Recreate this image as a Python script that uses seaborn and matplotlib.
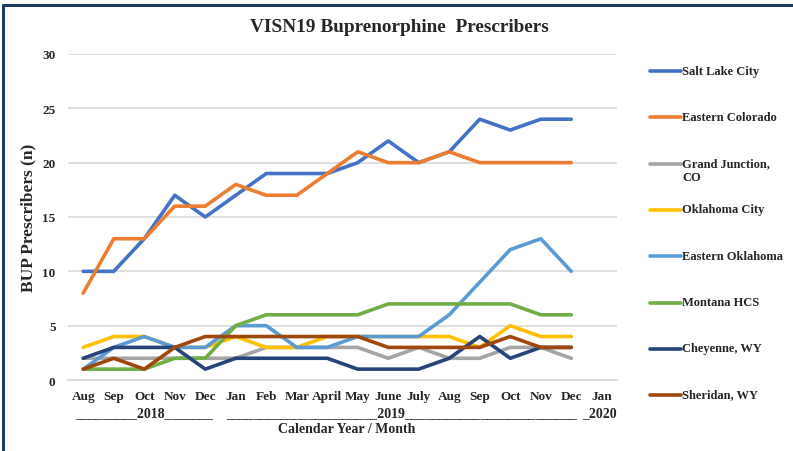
import matplotlib.pyplot as plt
import matplotlib.lines as mlines
import numpy as np
import pandas as pd
import seaborn as sns

# categories (Aug 2018 .. Jan 2020), data runs Aug 2018 .. Dec 2019
months = ['Aug', 'Sep', 'Oct', 'Nov', 'Dec', 'Jan', 'Feb', 'Mar', 'April',
          'May', 'June', 'July', 'Aug', 'Sep', 'Oct', 'Nov', 'Dec', 'Jan']

sites = ['Salt Lake City', 'Eastern Colorado', 'Grand Junction, CO', 'Oklahoma City',
         'Eastern Oklahoma', 'Montana HCS', 'Cheyenne, WY', 'Sheridan, WY']

salt_lake = [10, 10, 13, 17, 15, 17, 19, 19, 19, 20, 22, 20, 21, 24, 23, 24, 24]
eastern_colorado = [8, 13, 13, 16, 16, 18, 17, 17, 19, 21, 20, 20, 21, 20, 20, 20, 20]
grand_junction = [2, 2, 2, 2, 2, 2, 3, 3, 3, 3, 2, 3, 2, 2, 3, 3, 2]
oklahoma_city = [3, 4, 4, 3, 3, 4, 3, 3, 4, 4, 4, 4, 4, 3, 5, 4, 4]
eastern_oklahoma = [1, 3, 4, 3, 3, 5, 5, 3, 3, 4, 4, 4, 6, 9, 12, 13, 10]
montana = [1, 1, 1, 2, 2, 5, 6, 6, 6, 6, 7, 7, 7, 7, 7, 6, 6]
cheyenne = [2, 3, 3, 3, 1, 2, 2, 2, 2, 1, 1, 1, 2, 4, 2, 3, 3]
sheridan = [1, 2, 1, 3, 4, 4, 4, 4, 4, 4, 3, 3, 3, 3, 4, 3, 3]

colors = ['#4472C4', '#ED7D31', '#A5A5A5', '#FFC000',
          '#5B9BD5', '#70AD47', '#264478', '#9E480E']

series = [salt_lake, eastern_colorado, grand_junction, oklahoma_city,
          eastern_oklahoma, montana, cheyenne, sheridan]

rows = []
for site, vals in zip(sites, series):
    for i, v in enumerate(vals):
        rows.append({'site': site, 'idx': i, 'value': v})
df = pd.DataFrame(rows)

sns.set_style('white')
plt.rcParams['font.family'] = ['Liberation Serif', 'DejaVu Serif']
plt.rcParams['font.weight'] = 'bold'

W, H = 793, 452
fig = plt.figure(figsize=(W / 100, H / 100), dpi=100)
ax = fig.add_axes([68 / W, 1 - 381 / H, 549 / W, 326 / H])

sns.lineplot(data=df, x='idx', y='value', hue='site', hue_order=sites,
             palette=dict(zip(sites, colors)), linewidth=2.6, legend=False, ax=ax)

ax.set_xlim(-0.5, 17.5)
ax.set_ylim(0, 30)
ax.set_yticks(range(0, 31, 5))
ax.yaxis.grid(True, color='#D9D9D9', linewidth=1.2)
ax.set_axisbelow(True)
for s in ['top', 'right', 'left']:
    ax.spines[s].set_visible(False)
ax.spines['bottom'].set_color('#D9D9D9')
ax.spines['bottom'].set_linewidth(1.2)

ax.set_xticks(range(len(months)))
ax.set_xticklabels(months, fontsize=9.5, fontweight='bold')
ax.set_xticks(np.arange(-0.5, len(months), 1), minor=True)
ax.tick_params(axis='x', which='major', length=0, pad=7)
ax.tick_params(axis='x', which='minor', length=5, color='#D9D9D9', width=1.2)
ax.tick_params(axis='y', length=0, pad=9, labelsize=9.5)
for t in ax.get_yticklabels():
    t.set_fontweight('bold')
ax.set_xlabel('')
ax.set_ylabel('')

# titles / axis labels
fig.text(0.503, 1 - 28 / H, 'VISN19 Buprenorphine  Prescribers', ha='center', va='center',
         fontsize=13.9, fontweight='bold')
fig.text(28 / W, 1 - 218 / H, 'BUP Prescribers (n)', rotation=90, ha='center', va='center',
         fontsize=12.5, fontweight='bold')
fig.text(347 / W, 1 - 430 / H, 'Calendar Year / Month', ha='center', va='center',
         fontsize=10, fontweight='bold')

# year row
fig.text(75 / W, 1 - 414 / H, '_________2018_______', ha='left', va='center',
         fontsize=10, fontweight='bold')
fig.text(226 / W, 1 - 414 / H, '______________________2019_________________________',
         ha='left', va='center', fontsize=10, fontweight='bold')
fig.text(582 / W, 1 - 414 / H, '_2020', ha='left', va='center', fontsize=10, fontweight='bold')

# legend, drawn by hand to keep the even spacing
for i, (site, c) in enumerate(zip(sites, colors)):
    y = 72 + i * 46.3
    fig.add_artist(mlines.Line2D([650 / W, 681 / W], [1 - y / H] * 2, color=c,
                                 linewidth=2.6, transform=fig.transFigure))
    label = 'Grand Junction,\nCO' if site == 'Grand Junction, CO' else site
    fig.text(682 / W, 1 - (y - 6.5) / H, label, ha='left', va='top', fontsize=9,
             fontweight='bold', linespacing=1.2)

# frame lines (top and left)
navy = '#1F3864'
fig.add_artist(mlines.Line2D([3 / W, 1], [1 - 6 / H] * 2, color=navy, linewidth=2.2,
                             transform=fig.transFigure))
fig.add_artist(mlines.Line2D([3 / W, 3 / W], [1 - 6 / H, 0], color=navy, linewidth=2.2,
                             transform=fig.transFigure))

fig.savefig('out.png', dpi=100)
